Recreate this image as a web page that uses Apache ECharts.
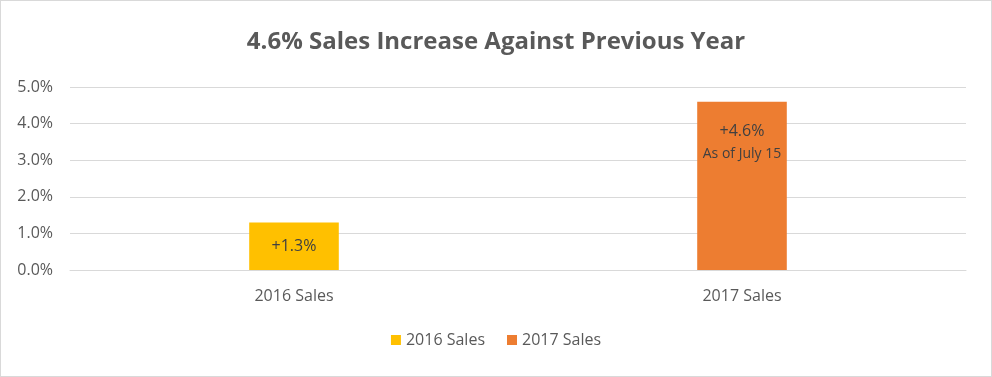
<!DOCTYPE html>
<html>
<head>
<meta charset="utf-8">
<script src="https://cdn.jsdelivr.net/npm/echarts@6/dist/echarts.min.js"></script>
<style>
    html, body { margin: 0; padding: 0; background: #fff; }
    #container { width: 990px; height: 375px; border: 1px solid #d9d9d9; }
</style>
</head>
<body>
<div id="container"></div>
<script>
    // 数据
    let categories = ['2016 Sales', '2017 Sales'];
    let sales2016 = [1.3, '-'];
    let sales2017 = ['-', 4.6];
    let yTicks = [0, 1, 2, 3, 4, 5];

    let textColor = '#595959';
    let font = '"Open Sans", "Noto Sans", sans-serif';

    let myChart = echarts.init(document.getElementById('container'));
    let option = {
        animation: false,
        title: {
            text: '4.6% Sales Increase Against Previous Year',
            left: 'center',
            top: 24,
            textStyle: { color: textColor, fontSize: 24, fontWeight: 'bold', fontFamily: font }
        },
        legend: {
            data: ['2016 Sales', '2017 Sales'],
            bottom: 23,
            left: 'center',
            icon: 'rect',
            itemWidth: 10,
            itemHeight: 10,
            itemGap: 22,
            textStyle: { color: textColor, fontSize: 16, fontFamily: font }
        },
        grid: {
            left: 69,
            right: 25,
            top: 86,
            bottom: 106
        },
        xAxis: {
            type: 'category',
            data: categories,
            axisLine: { show: true, lineStyle: { color: '#d9d9d9' } },
            axisTick: { show: false },
            axisLabel: { color: textColor, fontSize: 16, fontFamily: font, margin: 18 }
        },
        yAxis: {
            type: 'value',
            min: yTicks[0],
            max: yTicks[yTicks.length - 1],
            interval: 1,
            axisLine: { show: false },
            axisTick: { show: false },
            splitLine: { lineStyle: { color: '#d9d9d9', width: 1 } },
            axisLabel: {
                color: textColor, fontSize: 16, fontFamily: font, margin: 17,
                formatter: function (v) { return v.toFixed(1) + '%'; }
            }
        },
        series: [{
            name: '2016 Sales',
            type: 'bar',
            data: sales2016,
            barWidth: '20%',
            barGap: '-100%',
            itemStyle: { color: '#ffc000' },
            label: {
                show: true,
                position: 'inside',
                color: '#404040',
                fontSize: 16,
                fontFamily: font,
                formatter: function (p) { return '+' + p.value + '%'; }
            }
        }, {
            name: '2017 Sales',
            type: 'bar',
            data: sales2017,
            barWidth: '20%',
            itemStyle: { color: '#ed7d31' },
            label: {
                show: true,
                position: 'insideTop',
                distance: 19,
                color: '#404040',
                fontFamily: font,
                formatter: function (p) { return '{a|+' + p.value + '%}\n{b|As of July 15}'; },
                rich: {
                    a: { fontSize: 16, color: '#404040', fontFamily: font, lineHeight: 22 },
                    b: { fontSize: 14, color: '#404040', fontFamily: font, lineHeight: 22 }
                }
            }
        }]
    };
    myChart.setOption(option);
</script>
</body>
</html>
